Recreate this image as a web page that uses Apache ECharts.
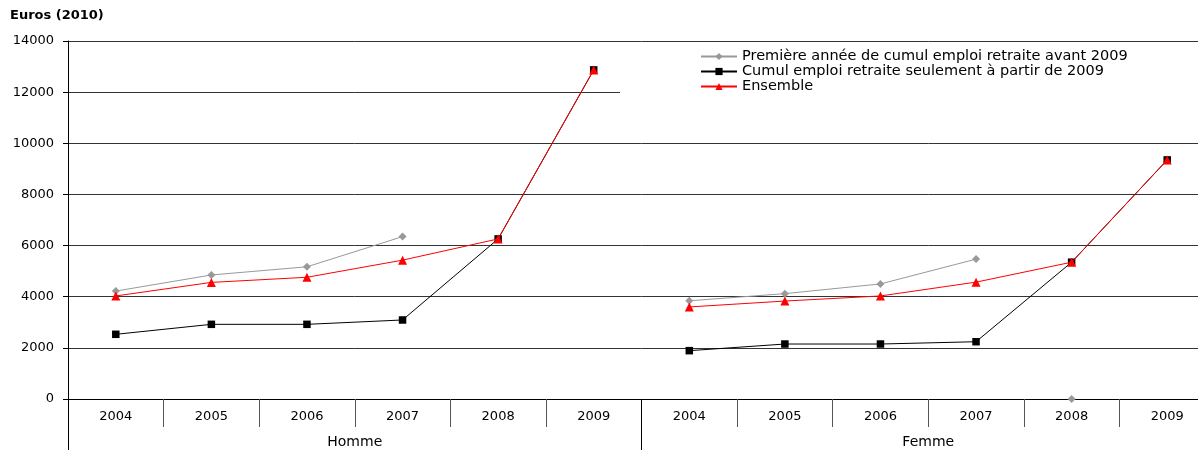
<!DOCTYPE html>
<html>
<head>
<meta charset="utf-8">
<script src="https://cdn.jsdelivr.net/npm/echarts@6/dist/echarts.min.js"></script>
<style>
  html, body { margin: 0; padding: 0; background: #fff; overflow: hidden; }
  #chart { width: 1215px; height: 450px; }
</style>
</head>
<body>
<div id="chart"></div>
<script>
// Years within each group and the two groups on the category axis
const years = ['2004', '2005', '2006', '2007', '2008', '2009'];
const groups = ['Homme', 'Femme'];
const yTicks = [0, 2000, 4000, 6000, 8000, 10000, 12000, 14000];

// Series names
const namePremiere = 'Première année de cumul emploi retraite avant 2009';
const nameCumul = 'Cumul emploi retraite seulement à partir de 2009';
const nameEnsemble = 'Ensemble';

// Values in euros (2010), per group, 2004..2009
const premiereHomme = [4220, 4850, 5170, 6350, null, null];
const premiereFemme = [3840, 4120, 4500, 5470, null, null];
const premiereFemme2008 = 0; // lone marker, not linked to the line
const cumulHomme = [2530, 2920, 2920, 3090, 6260, 12870];
const cumulFemme = [1890, 2150, 2150, 2240, 5350, 9350];
const ensembleHomme = [4030, 4560, 4760, 5430, 6260, 12870];
const ensembleFemme = [3600, 3830, 4030, 4570, 5350, 9350];

const FONT = "'DejaVu Sans', Verdana, sans-serif";
const categories = groups.flatMap(g => years.map(y => g + ' ' + y));
const blanks = years.map(() => null);
const homme = arr => arr.concat(blanks);
const femme = arr => blanks.concat(arr);

const styles = {
  premiere: { color: '#999999', symbol: 'diamond', symbolSize: 8 },
  cumul: { color: '#000000', symbol: 'rect', symbolSize: 7.5 },
  ensemble: { color: '#ff0000', symbol: 'triangle', symbolSize: 9 }
};

function lineSeries(name, st, data, z) {
  return {
    name: name,
    type: 'line',
    data: data,
    z: z,
    symbol: st.symbol,
    symbolSize: st.symbolSize,
    showAllSymbol: true,
    connectNulls: false,
    animation: false,
    itemStyle: { color: st.color },
    lineStyle: { color: st.color, width: 1 }
  };
}

const femme2008 = blanks.concat(years.map(y => (y === '2008' ? premiereFemme2008 : null)));

const series = [
  lineSeries(namePremiere, styles.premiere, homme(premiereHomme), 2),
  lineSeries(namePremiere, styles.premiere, femme(premiereFemme), 2),
  lineSeries(namePremiere, styles.premiere, femme2008, 2),
  lineSeries(nameCumul, styles.cumul, homme(cumulHomme), 3),
  lineSeries(nameCumul, styles.cumul, femme(cumulFemme), 3),
  lineSeries(nameEnsemble, styles.ensemble, homme(ensembleHomme), 4),
  lineSeries(nameEnsemble, styles.ensemble, femme(ensembleFemme), 4)
];

const chart = echarts.init(document.getElementById('chart'), null, { renderer: 'canvas' });
chart.setOption({
  backgroundColor: '#ffffff',
  animation: false,
  textStyle: { fontFamily: FONT },
  title: {
    text: 'Euros (2010)',
    left: 10,
    top: 9,
    padding: 0,
    textStyle: { fontFamily: FONT, fontSize: 13, fontWeight: 'bold', color: '#000' }
  },
  legend: {
    data: [namePremiere, nameCumul, nameEnsemble],
    orient: 'vertical',
    left: 620,
    top: 44,
    padding: [5, 200, 12, 80],
    itemGap: 0,
    itemWidth: 36,
    itemHeight: 9,
    backgroundColor: '#ffffff',
    textStyle: { fontFamily: FONT, fontSize: 14.5, color: '#000', lineHeight: 13.5 },
    z: 10
  },
  grid: { left: 68, top: 41, bottom: 51, right: 0, containLabel: false },
  xAxis: [
    {
      type: 'category',
      data: categories,
      position: 'bottom',
      boundaryGap: true,
      axisLine: { show: true, lineStyle: { color: '#000', width: 1 } },
      axisTick: { show: true, interval: 0, length: 28, lineStyle: { color: '#555' } },
      axisLabel: {
        interval: 0,
        margin: 11,
        fontFamily: FONT,
        fontSize: 13,
        color: '#000',
        formatter: v => v.split(' ')[1]
      },
      splitLine: { show: false }
    },
    {
      type: 'category',
      data: groups,
      position: 'bottom',
      boundaryGap: true,
      axisLine: { show: false },
      axisTick: { show: true, interval: 0, length: 51, lineStyle: { color: '#000' } },
      axisLabel: { interval: 0, margin: 36, fontFamily: FONT, fontSize: 14, color: '#000' },
      splitLine: { show: false }
    }
  ],
  yAxis: {
    type: 'value',
    min: yTicks[0],
    max: yTicks[yTicks.length - 1],
    interval: 2000,
    axisLine: { show: true, lineStyle: { color: '#000', width: 1 } },
    axisTick: { show: true, length: 5, lineStyle: { color: '#000' } },
    axisLabel: { margin: 14, fontFamily: FONT, fontSize: 13, color: '#000', formatter: v => String(v) },
    splitLine: { show: true, lineStyle: { color: '#333', width: 1 } }
  },
  series: series
});
</script>
</body>
</html>
